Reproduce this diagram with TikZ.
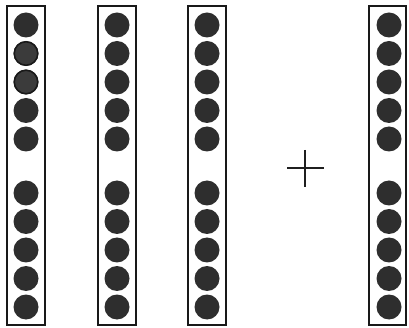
\documentclass[tikz,border=0pt]{standalone}
\begin{document}
\begin{tikzpicture}[x=1pt,y=-1pt,
  colbox/.style={draw=black!90, line width=1.8pt},
  dot/.style={circle, fill=black!82, inner sep=0pt, minimum size=25pt},
  graydot/.style={circle, fill=black!77, draw=black!90, line width=1.5pt, inner sep=0pt, minimum size=23.5pt},
  plusline/.style={draw=black!88, line width=2.8pt}]
\useasboundingbox (0,0) rectangle (409,328);
% column boxes
\draw[colbox] (7,6) rectangle (45,325);
\draw[colbox] (98,6) rectangle (136,325);
\draw[colbox] (188,6) rectangle (226,325);
\draw[colbox] (369,6) rectangle (406,325);
% dots
\foreach \c/\x in {1/26,2/117,3/207,4/389}{
  \foreach \i/\y in {1/25,2/53.5,3/82,4/110.5,5/139,6/193,7/221.5,8/250,9/278.5,10/307}{
    \node[dot] (d\c-\i) at (\x,\y) {};
  }
}
\node[graydot] (g1-2) at (26,53.5) {};
\node[graydot] (g1-3) at (26,82) {};
% plus sign
\coordinate (pl) at (287,168);
\coordinate (pr) at (324,168);
\coordinate (pt) at (305,150);
\coordinate (pb) at (305,187);
\draw[plusline] (pl) -- (pr);
\draw[plusline] (pt) -- (pb);
\end{tikzpicture}
\end{document}
